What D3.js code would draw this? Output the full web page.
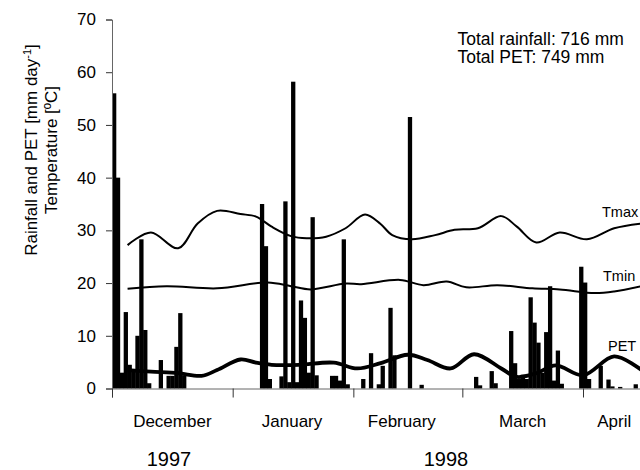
<!DOCTYPE html>
<html>
<head>
<meta charset="utf-8">
<script src="https://cdn.jsdelivr.net/npm/d3@7"></script>
<style>
  body { margin: 0; background: #fff; }
  text { font-family: "Liberation Sans", Arial, sans-serif; fill: #000; }
</style>
</head>
<body>
<div id="chart"></div>
<script>
// day 0 = 1 December 1997
var startDate = Date.UTC(1997, 11, 1);

// daily rainfall, only the days with rain (day offset, mm)
var rainDay = [0, 1, 2, 3, 4, 5, 6, 7, 8, 9, 12, 14, 15, 16, 17, 18,
  38, 39, 40, 43, 44, 45, 46, 47, 48, 49, 50, 51, 52, 56, 57, 58, 59, 60,
  64, 66, 68, 69, 71, 72, 76, 79,
  93, 94, 97, 98, 102, 103, 104, 105, 106, 107, 108, 109, 110, 111, 112, 113, 114, 115,
  120, 121, 122, 125, 127, 128, 130, 134];
var rainMm = [56, 40, 3, 14.5, 4.5, 3.5, 10, 28.3, 11.1, 1, 5.4, 2.4, 2.4, 7.9, 14.3, 2.5,
  35, 27, 1.8, 2.3, 35.5, 1.2, 58.2, 1.2, 16.7, 13.4, 3, 32.5, 2.5, 2.4, 2.4, 1.5, 28.3, 0.8,
  1.8, 6.7, 0.8, 4.3, 15.3, 6.3, 51.5, 0.7,
  2.2, 0.6, 3.3, 1, 10.9, 4.8, 1.8, 2.6, 1.8, 17.3, 12.5, 8.7, 3, 10.7, 19.4, 1.5, 7.2, 0.9,
  23.1, 20.1, 1.8, 4.3, 1.7, 0.4, 0.3, 0.8];

// smoothed daily temperatures and PET (read at knots)
var tmaxDay = [4, 10, 17, 22, 27, 33, 37, 41, 46, 50, 55, 60, 65, 69, 72, 77, 83, 88, 94, 100, 104, 109, 115, 122, 129, 136];
var tmaxC   = [27.2, 29.6, 26.6, 31.3, 33.7, 33.1, 32.6, 30.7, 28.9, 28.5, 28.8, 30.4, 33.0, 31.2, 29.1, 28.3, 29.1, 30.1, 30.4, 32.7, 30.7, 27.7, 29.6, 28.3, 30.4, 31.3];

var tminDay = [4, 14, 27, 40, 46, 51, 60, 64, 74, 80, 86, 91, 99, 108, 115, 124, 129, 136];
var tminC   = [18.9, 19.4, 19.0, 20.1, 19.4, 18.8, 19.9, 19.8, 20.6, 19.6, 20.3, 19.2, 19.6, 19.0, 18.8, 18.1, 18.4, 19.4];

var petDay = [4, 10, 17, 23, 27, 33, 37, 41, 48, 57, 63, 69, 76, 81, 87, 93, 100, 104, 109, 114, 121, 129, 136];
var petMm  = [3.5, 3.2, 2.9, 2.4, 3.5, 5.5, 4.9, 4.5, 4.5, 4.9, 3.8, 4.8, 6.4, 5.4, 3.8, 6.5, 3.8, 2.2, 2.9, 4.4, 2.5, 6.1, 3.5];

var monthTicks = ["1997-12-01", "1998-01-01", "1998-02-01", "1998-03-01", "1998-04-01"];
var monthNames = ["December", "January", "February", "March", "April"];
var yearNames = ["1997", "1998"];
var yTicks = [0, 10, 20, 30, 40, 50, 60, 70];

var width = 640, height = 470;

function dayDate(d) { return new Date(startDate + d * 864e5); }
function isoDate(s) { return new Date(s + "T00:00:00Z"); }

var svg = d3.select("#chart")
  .append("svg")
  .attr("width", width)
  .attr("height", height);

var x = d3.scaleUtc()
  .domain([dayDate(0), dayDate(136)])
  .range([112, 641.4]);

var y = d3.scaleLinear()
  .domain([0, 70])
  .range([388.5, 19.5]);

// rainfall bars (slightly widened so neighbouring days join up)
svg.append("g")
  .selectAll("rect")
  .data(rainDay)
  .enter()
  .append("rect")
    .attr("x", function(d) { return x(dayDate(d)); })
    .attr("y", function(d, i) { return y(rainMm[i]); })
    .attr("width", function(d) { return x(dayDate(d + 1)) - x(dayDate(d)) + 0.4; })
    .attr("height", function(d, i) { return y(0) - y(rainMm[i]); })
    .attr("fill", "#000");

// curves
function curveLine(days, vals, w) {
  var line = d3.line()
    .x(function(d) { return x(dayDate(d)); })
    .y(function(d, i) { return y(vals[i]); })
    .curve(d3.curveCatmullRom.alpha(0.5));
  svg.append("path")
    .attr("d", line(days))
    .attr("fill", "none")
    .attr("stroke", "#000")
    .attr("stroke-width", w);
}
curveLine(tmaxDay, tmaxC, 2);
curveLine(tminDay, tminC, 2);
curveLine(petDay, petMm, 3.8);

// y axis
var yAxis = svg.append("g")
  .attr("transform", "translate(112,0)")
  .call(d3.axisLeft(y).tickValues(yTicks).tickSize(6).tickPadding(10));
yAxis.select(".domain").attr("stroke", "#666");
yAxis.selectAll(".tick line").attr("stroke", "#333");
yAxis.selectAll("text")
  .style("font-size", "17px")
  .style("font-family", "Liberation Sans, Arial, sans-serif");

// x axis
var xAxis = svg.append("g")
  .attr("transform", "translate(0,388.5)")
  .call(d3.axisBottom(x)
    .tickValues(monthTicks.map(isoDate))
    .tickSize(9)
    .tickFormat(""));
xAxis.select(".domain").attr("stroke", "#666");
xAxis.selectAll(".tick line").attr("stroke", "#333");

// month labels roughly centred in each month
var monthEnds = monthTicks.slice(1).map(isoDate);
monthEnds.push(dayDate(136));
var labelShift = [0, -1, -6, 0, 2];
svg.selectAll("text.month")
  .data(monthNames)
  .enter()
  .append("text")
    .attr("class", "month")
    .attr("x", function(d, i) {
      return (x(isoDate(monthTicks[i])) + x(monthEnds[i])) / 2 + labelShift[i];
    })
    .attr("y", 426.5)
    .attr("text-anchor", "middle")
    .style("font-size", "17px")
    .text(function(d) { return d; });

// year labels
svg.selectAll("text.year")
  .data(yearNames)
  .enter()
  .append("text")
    .attr("class", "year")
    .attr("x", function(d, i) { return i == 0 ? 169 : 446; })
    .attr("y", 466)
    .attr("text-anchor", "middle")
    .style("font-size", "20px")
    .text(function(d) { return d; });

// y axis title
var title = svg.append("text")
  .attr("transform", "translate(37,150) rotate(-90)")
  .attr("text-anchor", "middle")
  .style("font-size", "17px");
title.append("tspan").text("Rainfall and PET [mm day");
title.append("tspan").attr("dy", -6).style("font-size", "11px").text("-1");
title.append("tspan").attr("dy", 6).text("]");

svg.append("text")
  .attr("transform", "translate(57,150) rotate(-90)")
  .attr("text-anchor", "middle")
  .style("font-size", "17px")
  .text("Temperature [ºC]");

// series labels
var seriesLabels = [["Tmax", 602, 217], ["Tmin", 603, 281], ["PET", 608, 350.5]];
svg.selectAll("text.series")
  .data(seriesLabels)
  .enter()
  .append("text")
    .attr("x", function(d) { return d[1]; })
    .attr("y", function(d) { return d[2]; })
    .style("font-size", "14.5px")
    .text(function(d) { return d[0]; });

// totals
svg.append("text").attr("x", 457.5).attr("y", 44.5).style("font-size", "17.5px")
  .text("Total rainfall: 716 mm");
svg.append("text").attr("x", 457.5).attr("y", 63).style("font-size", "17.5px")
  .text("Total PET: 749 mm");
</script>
</body>
</html>
